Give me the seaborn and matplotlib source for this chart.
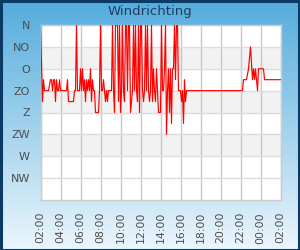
import numpy as np
import pandas as pd
import matplotlib
matplotlib.use("Agg")
import matplotlib.pyplot as plt
import matplotlib.dates as mdates
from matplotlib.patches import Rectangle
import seaborn as sns

title = "Windrichting"
directions = ["N", "NO", "O", "ZO", "Z", "ZW", "W", "NW"]
direction_degrees = [0, 45, 90, 135, 180, 225, 270, 315]

times = ["02:00", "02:12", "02:18", "02:24", "02:48", "03:00", "03:06", "03:12", "03:18", "03:24",
         "03:30", "03:36", "03:42", "03:48", "03:54", "04:00", "04:36", "04:42", "04:48", "05:18",
         "05:24", "05:30", "05:36", "05:42", "05:54", "06:00", "06:06", "06:12", "06:18", "06:24",
         "06:30", "06:36", "06:42", "06:48", "06:54", "07:00", "07:06", "07:12", "07:18", "07:24",
         "07:30", "07:48", "07:54", "08:00", "08:06", "08:12", "08:18", "08:24", "08:30", "08:36",
         "08:42", "08:48", "09:06", "09:12", "09:18", "09:24", "09:30", "09:42", "09:48", "09:54",
         "10:00", "10:06", "10:12", "10:18", "10:24", "10:30", "10:36", "10:42", "10:48", "10:54",
         "11:00", "11:06", "11:12", "11:18", "11:24", "11:30", "11:36", "11:42", "11:48", "11:54",
         "12:00", "12:06", "12:12", "12:18", "12:24", "12:30", "12:36", "12:42", "12:48", "12:54",
         "13:00", "13:06", "13:12", "13:18", "13:24", "13:30", "13:36", "13:42", "13:48", "14:00",
         "14:06", "14:12", "14:18", "14:24", "14:30", "14:36", "14:42", "14:48", "14:54", "15:00",
         "15:06", "15:12", "15:18", "15:24", "15:30", "15:36", "15:42", "15:48", "16:00", "16:06",
         "16:12", "16:18", "16:24", "16:30", "16:36", "22:12", "22:18", "22:36", "22:48", "23:00",
         "23:12", "23:18", "23:24", "23:30", "23:36", "23:42", "23:48", "00:18", "00:24", "02:00"]

wind_deg = [0, 157.5, 112.5, 135, 135, 112.5, 112.5, 135, 112.5, 112.5,
            157.5, 112.5, 135, 135, 112.5, 135, 135, 112.5, 157.5, 157.5,
            135, 135, 0, 135, 135, 90, 135, 90, 135, 112.5,
            157.5, 112.5, 135, 112.5, 135, 90, 157.5, 112.5, 135, 135,
            180, 180, 135, 0, 135, 135, 112.5, 135, 157.5, 135,
            157.5, 135, 135, 0, 135, 180, 0, 0, 157.5, 0,
            180, 135, 0, 135, 157.5, 0, 0, 135, 0, 0,
            180, 157.5, 135, 0, 135, 0, 135, 157.5, 0, 180,
            0, 0, 135, 157.5, 135, 0, 135, 0, 135, 157.5,
            135, 0, 157.5, 90, 135, 157.5, 90, 135, 180, 180,
            0, 135, 135, 90, 0, 225, 135, 90, 180, 90,
            202.5, 90, 90, 0, 112.5, 0, 0, 135, 135, 157.5,
            135, 202.5, 112.5, 157.5, 135, 135, 112.5, 112.5, 90, 45,
            112.5, 90, 112.5, 90, 112.5, 135, 90, 90, 112.5, 112.5]

# build timestamps (crossing midnight)
stamps = []
day = pd.Timestamp("2024-05-01")
prev = None
for t in times:
    ts = day + pd.Timedelta(hours=int(t[:2]), minutes=int(t[3:]))
    if prev is not None and ts < prev:
        day = day + pd.Timedelta(days=1)
        ts = ts + pd.Timedelta(days=1)
    stamps.append(ts)
    prev = ts
df = pd.DataFrame({"time": stamps, "deg": wind_deg})

sns.set_style("white")
plt.rcParams["font.family"] = ["DejaVu Sans"]

fig = plt.figure(figsize=(3.0, 2.5), dpi=100)

# gradient background
bg = fig.add_axes([0, 0, 1, 1], zorder=-10)
top = np.array([84, 172, 220]) / 255
bot = np.array([236, 246, 252]) / 255
g = np.linspace(0, 1, 256)[:, None]
img = top[None, None, :] * (1 - g[:, :, None]) + bot[None, None, :] * g[:, :, None]
img = np.repeat(img, 2, axis=1)
bg.imshow(img, aspect="auto", extent=[0, 1, 0, 1], origin="upper")
bg.set_xlim(0, 1); bg.set_ylim(0, 1)
bg.axis("off")
bg.add_patch(Rectangle((0.002, 0.002), 0.996, 0.996, transform=bg.transAxes,
                       fill=False, edgecolor="#0b3a66", linewidth=2.2))

ax = fig.add_axes([40.5 / 300, 50 / 250, 240 / 300, 175 / 250])
ax.set_facecolor("white")

# alternate bands
for i in range(1, len(direction_degrees) - 1, 2):
    ax.axhspan(direction_degrees[i], direction_degrees[i + 1], color="#f2f2f2", zorder=0, lw=0)

sns.lineplot(data=df, x="time", y="deg", ax=ax, color="#ff0000", linewidth=0.85, zorder=3)

start = stamps[0]
end = stamps[-1]
ax.set_xlim(start, end)
ax.set_ylim(360, 0)
ax.set_yticks(direction_degrees)
ax.set_yticklabels(directions)
ax.xaxis.set_major_formatter(mdates.DateFormatter("%H:%M"))
ax.set_xticks(pd.date_range(start, end, freq="2h"))
ax.set_xlabel("")
ax.set_ylabel("")

ax.grid(axis="y", color="#dcdcdc", linewidth=1.0, zorder=1)
ax.grid(axis="x", color="#c8c8c8", linewidth=1.0, zorder=1)
ax.set_axisbelow(True)
for s in ax.spines.values():
    s.set_color("#cccccc")
    s.set_linewidth(1.0)

ax.tick_params(axis="y", length=0, pad=7.5, labelsize=8, labelcolor="#4d4d4d")
ax.tick_params(axis="x", length=0, pad=8.6, labelsize=7.8, labelcolor="#4d4d4d", rotation=90)

fig.text(0.5, 1 - 11 / 250, title, ha="center", va="center", fontsize=9.5, color="#1d3d5e")

fig.savefig("out.png", dpi=100)
